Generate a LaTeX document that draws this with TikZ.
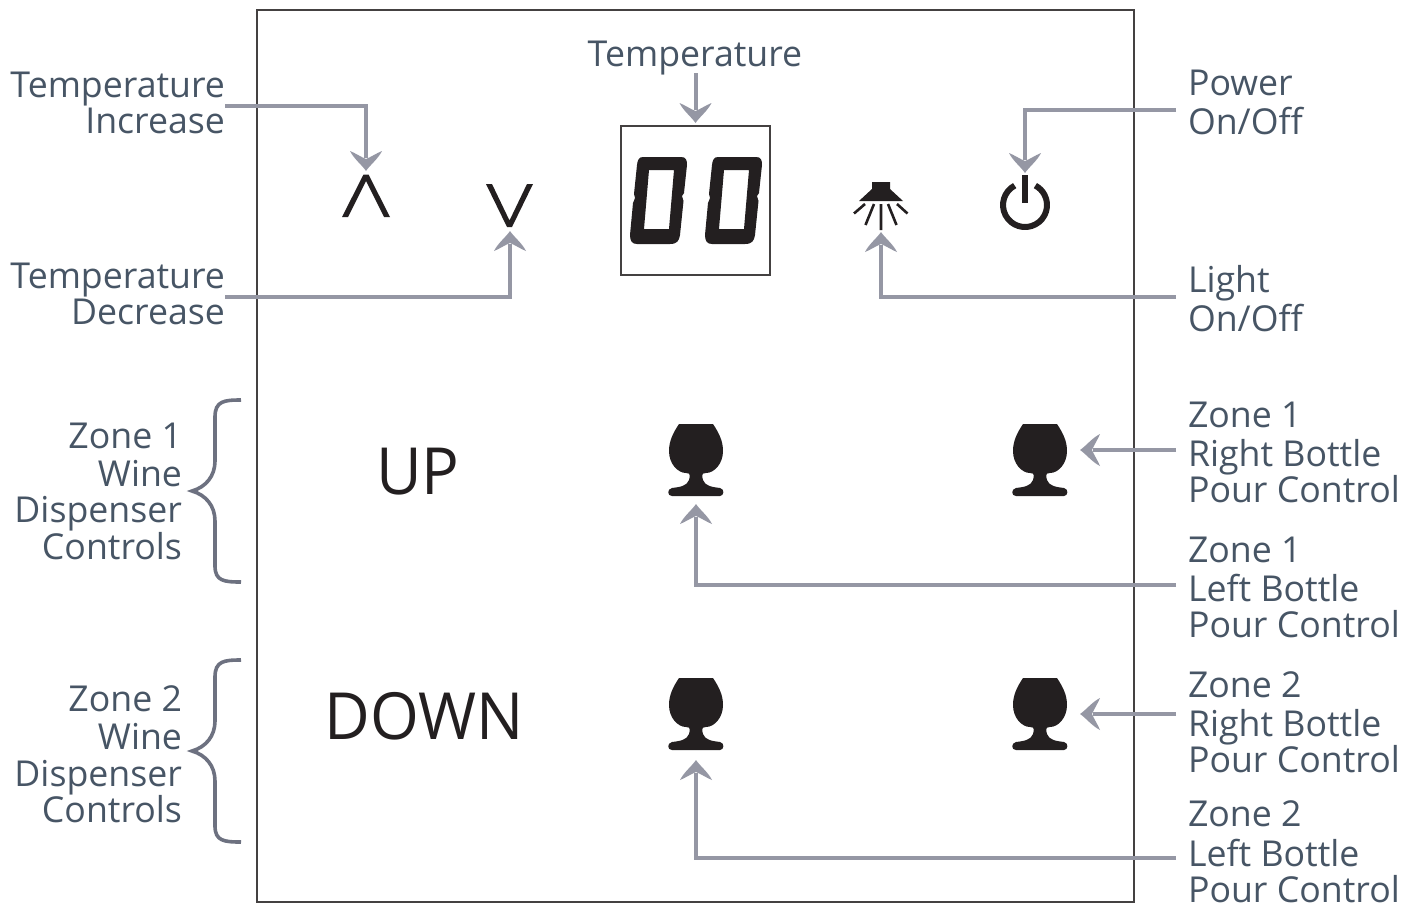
\documentclass[tikz,border=0pt]{standalone}
\usepackage{fontspec}
\setmainfont{Open Sans}
\usetikzlibrary{arrows.meta,calc}
\definecolor{lbl}{HTML}{475565}
\definecolor{arr}{HTML}{9597A4}
\definecolor{brc}{HTML}{6D7180}
\definecolor{ink}{HTML}{231F20}
\newcommand{\lfont}{\fontsize{35.7}{36.6}\selectfont}
\pgfdeclarearrow{
  name=Barb,
  setup code={
    \pgfarrowssettipend{0pt}
    \pgfarrowssetlineend{-13pt}
    \pgfarrowssetvisualbackend{-20pt}
    \pgfarrowssetbackend{-20pt}
  },
  drawing code={
    \pgfpathmoveto{\pgfqpoint{0pt}{0pt}}
    \pgfpathcurveto{\pgfqpoint{-6pt}{4pt}}{\pgfqpoint{-12pt}{12pt}}{\pgfqpoint{-20pt}{16pt}}
    \pgfpathcurveto{\pgfqpoint{-17pt}{9pt}}{\pgfqpoint{-14pt}{5pt}}{\pgfqpoint{-12pt}{0pt}}
    \pgfpathcurveto{\pgfqpoint{-14pt}{-5pt}}{\pgfqpoint{-17pt}{-9pt}}{\pgfqpoint{-20pt}{-16pt}}
    \pgfpathcurveto{\pgfqpoint{-12pt}{-12pt}}{\pgfqpoint{-6pt}{-4pt}}{\pgfqpoint{0pt}{0pt}}
    \pgfpathclose
    \pgfusepathqfill
  }
}
\tikzset{
  x=1pt,y=-1pt,
  conn/.style={draw=arr,line width=4pt,-{Barb}},
  lab/.style={inner sep=0pt,outer sep=0pt,text=lbl,font=\lfont},
  labr/.style={lab,anchor=north east,align=right},
  labl/.style={lab,anchor=north west,align=left},
  icon/.style={inner sep=0pt,outer sep=0pt,minimum width=#1,minimum height=#1},
  big/.style={inner sep=0pt,outer sep=0pt,text=ink,font=\fontsize{65}{70}\selectfont,anchor=base,xscale=.965},
  brace/.style={draw=brc,line width=3.6pt},
  glass/.pic={
    \fill[ink] (-17,0) -- (17,0) .. controls (23,9) and (27,17) .. (27,27)
      .. controls (27,40) and (18,49) .. (10,49)
      .. controls (5,49) and (6,52) .. (7,56)
      .. controls (9,62) and (16,63) .. (24,64)
      .. controls (29,65) and (28,72) .. (24,72)
      -- (-24,72) .. controls (-29,72) and (-29,65) .. (-24,64)
      .. controls (-16,63) and (-9,62) .. (-7,56)
      .. controls (-6,52) and (-5,49) .. (-10,49)
      .. controls (-18,49) and (-27,40) .. (-27,27)
      .. controls (-27,17) and (-23,9) .. (-17,0) -- cycle;
  },
  digit/.pic={
    \fill[ink,even odd rule]
      (12,0) -- (50,0) .. controls (55,0) and (56,3) .. (56,8)
      -- (53,36) -- (51,39) -- (52.5,44) -- (49,78)
      .. controls (48,84) and (46,87) .. (39,87) -- (6,87)
      .. controls (1,87) and (-1,84) .. (-1,78) -- (2,46) -- (4,41) -- (3,37) -- (6,8)
      .. controls (6.5,3) and (8,0) .. (12,0) -- cycle
      (18,13) -- (43,13) -- (38,72) -- (13,72) -- cycle;
  }
}
\begin{document}
\begin{tikzpicture}
\useasboundingbox (0,0) rectangle (1417,903);
% frames
\node[draw=ink!85,line width=2pt,inner sep=0pt,minimum width=877pt,minimum height=892pt] (panel) at (695.5,456) {};
\node[draw=ink!85,line width=1.6pt,inner sep=0pt,minimum width=149pt,minimum height=149pt] (disp) at (695.5,200.5) {};
% digits
\pic at (631,157) {digit};
\pic at (706,157) {digit};
% chevrons
\node[icon=42pt] (up) at (366,192) {};
\node[icon=42pt] (dn) at (510,210) {};
\fill[ink] (342,217) -- (363.5,174.5) -- (368.5,174.5) -- (390,217) -- (384,217) -- (366,181) -- (348,217) -- cycle;
\fill[ink] (486,184) -- (492,184) -- (509.5,220.5) -- (527,184) -- (533,184) -- (512,227) -- (507,227) -- cycle;
% light
\node[icon=48pt] (light) at (881,208) {};
\fill[ink] (872,182) -- (890,182) -- (890,189) -- (903,201) -- (859,201) -- (872,189) -- cycle;
\draw[ink,line width=2.6pt] (881,204) -- (881,230) (874,204) -- (865.5,225) (888,204) -- (896.5,225) (865,204) -- (854,213.5) (897,204) -- (907.5,213.5);
% power
\node[icon=54pt] (power) at (1025,200) {};
\draw[ink,line width=6pt] (1025,175) -- (1025,203);
\draw[ink,line width=6pt] (1014.7,185.6) arc[start angle=-118,end angle=-422,radius=22];
% glasses
\node[icon=72pt] (g1) at (696,460) {};
\node[icon=72pt] (g2) at (1040,460) {};
\node[icon=72pt] (g3) at (696,714) {};
\node[icon=72pt] (g4) at (1040,714) {};
\pic at (696,424) {glass};
\pic at (1040,424) {glass};
\pic at (696,678) {glass};
\pic at (1040,678) {glass};
% big labels
\node[big] (uplbl) at (418,494) {UP};
\node[big] (downlbl) at (424,739) {DOWN};
% labels
\node[lab,anchor=base] (ttop) at (695,66) {Temperature};
\node[labr] (tinc) at (225,71.4) {\strut Temperature\\Increase};
\node[labr] (tdec) at (225,262.4) {\strut Temperature\\Decrease};
\node[labl] (pow) at (1188,69.4) {\strut Power\\On/Off};
\node[labl] (lig) at (1188,265.4) {\strut Light\\On/Off};
\node[labr] (z1) at (182,422.4) {\strut Zone 1\\Wine\\Dispenser\\Controls};
\node[labr] (z2) at (182,685.4) {\strut Zone 2\\Wine\\Dispenser\\Controls};
\node[labl] (z1r) at (1188,401.4) {\strut Zone 1\\Right Bottle\\Pour Control};
\node[labl] (z1l) at (1188,536.4) {\strut Zone 1\\Left Bottle\\Pour Control};
\node[labl] (z2r) at (1188,671.4) {\strut Zone 2\\Right Bottle\\Pour Control};
\node[labl] (z2l) at (1188,801) {\strut Zone 2\\Left Bottle\\Pour Control};
% connector ends
\coordinate (s1) at (225,105.5);
\coordinate (s2) at (225,296.5);
\coordinate (s3) at (1176,110);
\coordinate (s4) at (1176,297);
\coordinate (s5) at (1176,450);
\coordinate (s6) at (1176,584.5);
\coordinate (s7) at (1176,714);
\coordinate (s8) at (1176,858);
\coordinate (s9) at (695.5,73);
\coordinate (e9) at (695.5,123);
\coordinate (e5) at (1080,450);
\coordinate (e7) at (1080,714);
\draw[conn] (s1) -| (up.north);
\draw[conn] (s9) -- (e9);
\draw[conn] (s2) -| (dn.south);
\draw[conn] (s3) -| (power.north);
\draw[conn] (s4) -| (light.south);
\draw[conn] (s5) -- (e5);
\draw[conn] (s6) -| ($(g1.south)+(0,8)$);
\draw[conn] (s7) -- (e7);
\draw[conn] (s8) -| ($(g3.south)+(0,10)$);
% braces
\draw[brace] (241,400) .. controls (224,400) and (215,401) .. (215,417) -- (215,461) .. controls (215,476) and (206,487) .. (192,491)
  .. controls (206,495) and (215,506) .. (215,521) -- (215,566) .. controls (215,581) and (224,582) .. (241,582);
\draw[brace] (241,660) .. controls (224,660) and (215,661) .. (215,677) -- (215,721) .. controls (215,736) and (206,747) .. (192,751)
  .. controls (206,755) and (215,766) .. (215,781) -- (215,826) .. controls (215,841) and (224,842) .. (241,842);
\end{tikzpicture}
\end{document}
